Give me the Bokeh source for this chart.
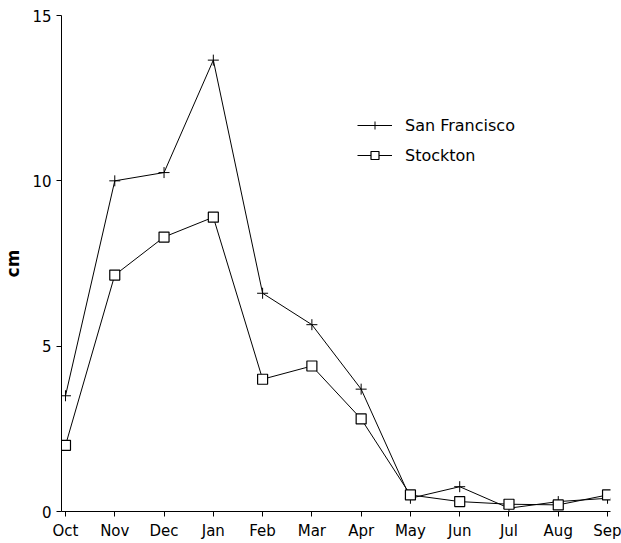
from bokeh.plotting import figure
from bokeh.models import ColumnDataSource, Legend, LegendItem, FixedTicker, Range1d
from bokeh.embed import file_html
from bokeh.resources import INLINE

months = ["Oct", "Nov", "Dec", "Jan", "Feb", "Mar", "Apr", "May", "Jun", "Jul", "Aug", "Sep"]
san_francisco = [3.5, 10.0, 10.25, 13.65, 6.6, 5.65, 3.7, 0.4, 0.75, 0.1, 0.3, 0.4]
stockton = [2.0, 7.15, 8.3, 8.9, 4.0, 4.4, 2.8, 0.5, 0.3, 0.22, 0.2, 0.5]
y_ticks = [0, 5, 10, 15]

x = list(range(len(months)))
src = ColumnDataSource(dict(x=x, sf=san_francisco, st=stockton))

FONT = "DejaVu Sans"

p = figure(width=621, height=543, output_backend="svg", toolbar_location=None,
           x_range=Range1d(-0.081, 11.06), y_range=Range1d(0, 15),
           min_border_left=61, min_border_right=11, min_border_top=15, min_border_bottom=32)
p.outline_line_color = None
p.grid.visible = False
p.background_fill_color = "white"
p.border_fill_color = "white"

l1 = p.line("x", "sf", source=src, line_color="black", line_width=1)
m1 = p.scatter("x", "sf", source=src, marker="cross", size=11, line_color="black", line_width=1)
l2 = p.line("x", "st", source=src, line_color="black", line_width=1)
m2 = p.scatter("x", "st", source=src, marker="square", size=10, line_color="black",
               fill_color="white", line_width=1.2)

p.xaxis.ticker = FixedTicker(ticks=x)
p.xaxis.major_label_overrides = {i: m for i, m in enumerate(months)}
p.yaxis.ticker = FixedTicker(ticks=y_ticks)
for ax in (p.xaxis, p.yaxis):
    ax.axis_line_color = "black"
    ax.major_tick_line_color = "black"
    ax.major_tick_in = 0
    ax.major_tick_out = 5
    ax.minor_tick_line_color = None
    ax.major_label_text_font = FONT
    ax.major_label_text_font_size = "15px"
    ax.major_label_text_color = "black"
p.xaxis.major_label_standoff = 5
p.yaxis.major_label_standoff = 5
p.yaxis.axis_label = "cm"
p.yaxis.axis_label_text_font = FONT
p.yaxis.axis_label_text_font_size = "17px"
p.yaxis.axis_label_text_font_style = "bold"
p.yaxis.axis_label_text_color = "black"
p.yaxis.axis_label_standoff = 6

legend = Legend(items=[LegendItem(label="San Francisco", renderers=[l1, m1]),
                       LegendItem(label="Stockton", renderers=[l2, m2])],
                location=(296, 346))
legend.border_line_color = None
legend.background_fill_alpha = 0
legend.padding = 0
legend.margin = 0
legend.spacing = 10
legend.glyph_width = 35
legend.glyph_height = 20
legend.label_height = 20
legend.label_standoff = 13
legend.label_text_font = FONT
legend.label_text_font_size = "16px"
legend.label_text_color = "black"
p.add_layout(legend, "center")

open("out.html", "w").write(file_html(p, INLINE))
